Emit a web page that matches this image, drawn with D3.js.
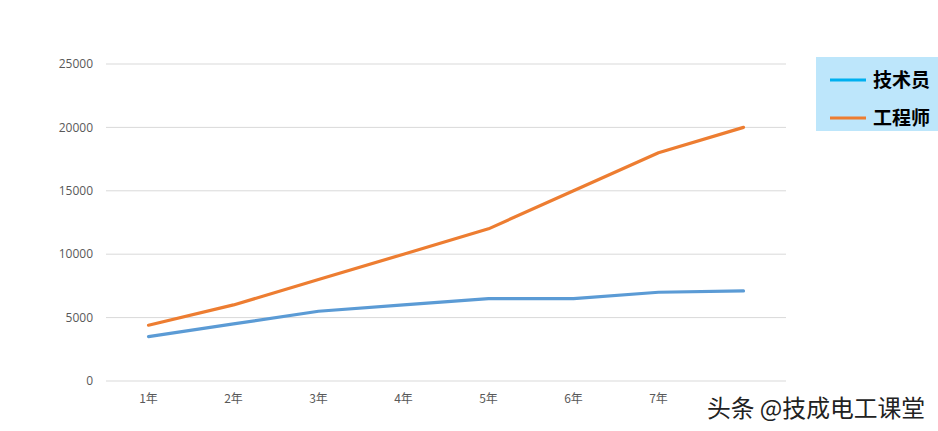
<!DOCTYPE html>
<html><head><meta charset="utf-8">
<script src="https://cdn.jsdelivr.net/npm/d3@7"></script>
<style>body{margin:0;background:#fff;} svg{display:block;font-family:"Noto Sans CJK SC","Open Sans",sans-serif;}</style>
</head><body>
<svg id="c" width="938" height="431"></svg>
<script>
const categories = ["1年","2年","3年","4年","5年","6年","7年","8年"];
const technician = [3500,4500,5500,6000,6500,6500,7000,7100];
const engineer = [4400,6000,8000,10000,12000,15000,18000,20000];
const yTicks = [0,5000,10000,15000,20000,25000];
const seriesNames = ["技术员","工程师"];
const watermark = "头条 @技成电工课堂";

(function(){
const svg = d3.select("#c");
const pLeft=106,pRight=786,pTop=64,pBottom=381;
const x = d3.scaleBand().domain(categories).range([pLeft,pRight]);
const y = d3.scaleLinear().domain([0,25000]).range([pBottom,pTop]);

svg.append("g").selectAll("line").data(yTicks).join("line")
  .attr("x1",pLeft).attr("x2",pRight).attr("y1",d=>y(d)).attr("y2",d=>y(d))
  .attr("stroke","#d9d9d9").attr("stroke-width",1);
svg.append("g").selectAll("text").data(yTicks).join("text")
  .attr("x",93).attr("y",d=>y(d)).attr("dy","0.35em").attr("text-anchor","end")
  .attr("font-size",12).attr("fill","#595959").attr("font-family","Open Sans, sans-serif").text(d=>d);
// last category label is covered by the watermark in the reference
svg.append("g").selectAll("text").data(categories.slice(0, categories.length-1)).join("text")
  .attr("x",d=>x(d)+x.bandwidth()/2).attr("y",403).attr("text-anchor","middle")
  .attr("font-size",12).attr("fill","#595959").text(d=>d);

const line = d3.line().x((d,i)=>x(categories[i])+x.bandwidth()/2).y(d=>y(d));
svg.append("path").datum(technician).attr("d",line).attr("fill","none")
  .attr("stroke","#5B9BD5").attr("stroke-width",3.2).attr("stroke-linejoin","round").attr("stroke-linecap","round");
svg.append("path").datum(engineer).attr("d",line).attr("fill","none")
  .attr("stroke","#ED7D31").attr("stroke-width",3.2).attr("stroke-linejoin","round").attr("stroke-linecap","round");

const lg = svg.append("g");
lg.append("rect").attr("x",816).attr("y",57).attr("width",122).attr("height",74).attr("fill","#BDE6FB");
const legColors = ["#00B0F0","#ED7D31"];
seriesNames.forEach((n,i)=>{
  const yy = 80 + i*38;
  lg.append("line").attr("x1",830).attr("x2",866).attr("y1",yy).attr("y2",yy)
    .attr("stroke",legColors[i]).attr("stroke-width",3);
  lg.append("text").attr("x",873).attr("y",yy).attr("dy","0.36em")
    .attr("font-size",19).attr("font-weight","bold").attr("fill","#000").text(n);
});

svg.append("text").attr("x",707).attr("y",417).attr("font-size",23.5)
  .attr("fill","#222").attr("textLength",218).attr("lengthAdjust","spacingAndGlyphs")
  .text(watermark);
})();
</script>
</body></html>
